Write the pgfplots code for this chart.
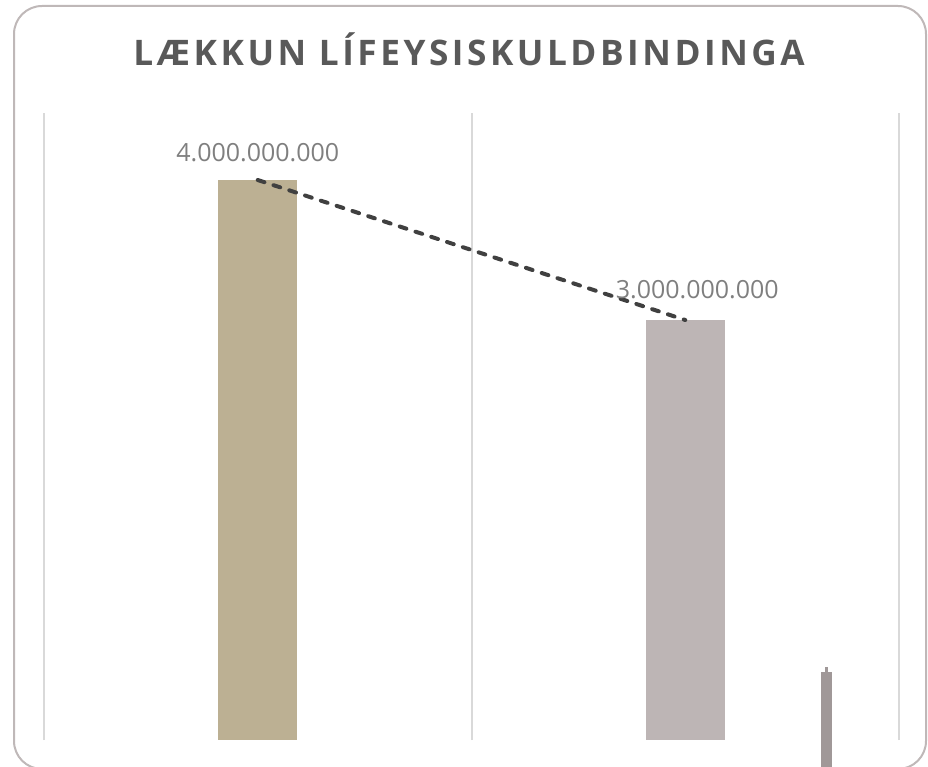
\documentclass[border=0pt]{standalone}
\usepackage{pgfplots}
\pgfplotsset{compat=1.18}
\usepackage{fontspec}
\setmainfont{Open Sans}
\newfontfamily\titlefont[LetterSpace=10]{Open Sans}
\definecolor{bartan}{HTML}{BCB093}
\definecolor{bargray}{HTML}{BDB5B5}
\definecolor{barsmall}{HTML}{A09898}
\definecolor{dashc}{HTML}{404040}
\definecolor{gridc}{HTML}{D9D9D9}
\definecolor{framec}{HTML}{BFB8B8}
\definecolor{titlec}{HTML}{595959}
\definecolor{labelc}{HTML}{7F7F7F}
\begin{document}
\begin{tikzpicture}
\begin{scope}[x=0.5pt,y=-0.5pt,yshift=383.5pt]
\draw[framec, line width=1pt, rounded corners=14pt] (14,6) rectangle (926,769);
\node[anchor=base, text=titlec, font=\titlefont\bfseries\fontsize{17.6pt}{20pt}\selectfont, inner sep=0pt] at (469,65.5) {LÆKKUN LÍFEYSISKULDBINDINGA};
\end{scope}
\begin{axis}[
  at={(22pt,13.5pt)}, anchor=south west,
  scale only axis, width=427.5pt, height=313.5pt,
  xmin=0, xmax=2, ymin=0, ymax=4.4786e9,
  xtick={0,1,2}, xticklabels={}, ytick=\empty,
  xmajorgrids, major grid style={gridc, line width=1pt},
  axis line style={draw=none}, tick style={draw=none},
  clip=false,
]
\addplot[ybar, bar width=39.5pt, bar shift=0pt, fill=bartan, draw=none] coordinates {(0.5,4e9)};
\addplot[ybar, bar width=39.5pt, bar shift=0pt, fill=bargray, draw=none] coordinates {(1.5,3e9)};
\addplot[barsmall, line width=5.5pt] coordinates {(1.8306,-0.3e9) (1.8306,0.486e9)};
\addplot[barsmall, line width=1.5pt] coordinates {(1.8306,0.48e9) (1.8306,0.52e9)};
\addplot[dashc, line width=2pt, dash pattern=on 3.5pt off 4.8pt, line cap=round] coordinates {(0.5,4e9) (1.5,3e9)};
\node[anchor=base, text=labelc, font=\fontsize{12.5pt}{15pt}\selectfont, inner sep=0pt] at (axis cs:0.5,4e9) [yshift=9.5pt] {4.000.000.000};
\node[anchor=base, text=labelc, font=\fontsize{12.5pt}{15pt}\selectfont, inner sep=0pt] at (axis cs:1.5,3e9) [yshift=11pt, xshift=6pt] {3.000.000.000};
\end{axis}
\pgfresetboundingbox
\useasboundingbox (0,0) rectangle (464pt,383.5pt);
\end{tikzpicture}
\end{document}
